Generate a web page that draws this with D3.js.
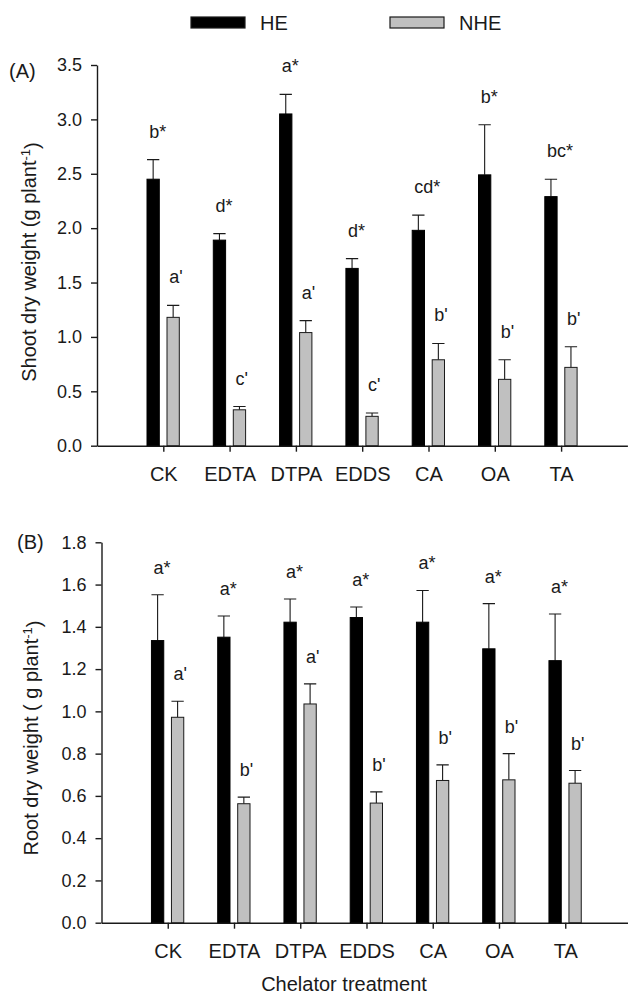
<!DOCTYPE html>
<html>
<head>
<meta charset="utf-8">
<script src="https://d3js.org/d3.v7.min.js"></script>
<style>
  body { margin: 0; background: #fff; }
  svg { font-family: "Liberation Sans", Arial, sans-serif; }
</style>
</head>
<body>
<svg width="628" height="997"></svg>
<script>
  // chelator treatments
  var categories = ["CK", "EDTA", "DTPA", "EDDS", "CA", "OA", "TA"];

  // (A) shoot dry weight, g plant-1
  var shootHE = [2.45, 1.89, 3.05, 1.63, 1.98, 2.49, 2.29];
  var shootHEerr = [0.18, 0.06, 0.18, 0.09, 0.14, 0.46, 0.16];
  var shootNHE = [1.18, 0.33, 1.04, 0.27, 0.79, 0.61, 0.72];
  var shootNHEerr = [0.11, 0.03, 0.11, 0.03, 0.15, 0.18, 0.19];
  var shootHElab = ["b*", "d*", "a*", "d*", "cd*", "b*", "bc*"];
  var shootNHElab = ["a'", "c'", "a'", "c'", "b'", "b'", "b'"];
  var shootTicks = [0, 0.5, 1.0, 1.5, 2.0, 2.5, 3.0, 3.5];

  // (B) root dry weight, g plant-1
  var rootHE = [1.335, 1.351, 1.422, 1.444, 1.422, 1.296, 1.24];
  var rootHEerr = [0.217, 0.10, 0.11, 0.05, 0.15, 0.214, 0.221];
  var rootNHE = [0.972, 0.563, 1.035, 0.566, 0.673, 0.676, 0.66];
  var rootNHEerr = [0.076, 0.031, 0.095, 0.053, 0.074, 0.124, 0.06];
  var rootHElab = ["a*", "a*", "a*", "a*", "a*", "a*", "a*"];
  var rootNHElab = ["a'", "b'", "a'", "b'", "b'", "b'", "b'"];
  var rootTicks = [0, 0.2, 0.4, 0.6, 0.8, 1.0, 1.2, 1.4, 1.6, 1.8];

  var svg = d3.select("svg");
  var ink = "#1a1a1a";
  var grey = "#c0c0c0";

  function makePanel(p) {
    // categories sit on slots 1..7 of an 8-slot axis
    var x = d3.scaleLinear().domain([0, 8]).range(p.xRange);
    var y = d3.scaleLinear().domain(p.yDomain).range(p.yRange);

    var yAxis = svg.append("g")
      .attr("transform", "translate(" + p.xRange[0] + ",0)")
      .call(d3.axisLeft(y).tickValues(p.ticks).tickFormat(d3.format(".1f"))
        .tickSize(6).tickSizeOuter(0).tickPadding(9));
    var xAxis = svg.append("g")
      .attr("transform", "translate(0," + p.yRange[0] + ")")
      .call(d3.axisBottom(x).tickValues(d3.range(1, 8))
        .tickFormat(function(d) { return categories[d - 1]; })
        .tickSize(6).tickSizeOuter(0).tickPadding(15));
    [yAxis, xAxis].forEach(function(a) {
      a.selectAll("path, line").attr("stroke", ink).attr("stroke-width", 1.4);
      a.selectAll("text").attr("fill", ink).attr("font-family", "Liberation Sans, Arial, sans-serif");
    });
    yAxis.selectAll("text").attr("font-size", "18px");
    xAxis.selectAll("text").attr("font-size", "20px");

    var series = [
      { vals: p.he, err: p.heErr, lab: p.heLab, dx: -16.3, fill: "#000", stroke: "#000" },
      { vals: p.nhe, err: p.nheErr, lab: p.nheLab, dx: 3.7, fill: grey, stroke: ink }
    ];
    var bw = 12.3;

    series.forEach(function(s) {
      var cx = function(i) { return x(i + 1) + s.dx + bw / 2; };
      var g = svg.append("g");
      // error bars (upper only)
      g.selectAll(".eb")
        .data(s.vals)
        .enter()
        .append("path")
        .attr("class", "eb")
        .attr("fill", "none")
        .attr("stroke", ink)
        .attr("stroke-width", 1.1)
        .attr("d", function(d, i) {
          var top = y(d + s.err[i]);
          return "M" + cx(i) + "," + y(d) + "V" + top +
            "M" + (cx(i) - bw / 2) + "," + top + "H" + (cx(i) + bw / 2);
        });
      g.selectAll(".bar")
        .data(s.vals)
        .enter()
        .append("rect")
        .attr("class", "bar")
        .attr("x", function(d, i) { return x(i + 1) + s.dx; })
        .attr("y", function(d) { return y(d); })
        .attr("width", bw)
        .attr("height", function(d) { return y(0) - y(d); })
        .attr("fill", s.fill)
        .attr("stroke", s.stroke)
        .attr("stroke-width", 1);
      g.selectAll(".lab")
        .data(s.lab)
        .enter()
        .append("text")
        .attr("class", "lab")
        .attr("x", function(d, i) { return cx(i) - 4; })
        .attr("y", function(d, i) { return y(s.vals[i] + s.err[i]) - p.labGap; })
        .attr("font-size", "18px")
        .attr("fill", ink)
        .text(function(d) { return d; });
    });

    svg.append("text")
      .attr("x", p.tag[0])
      .attr("y", p.tag[1])
      .attr("font-size", "20px")
      .attr("fill", ink)
      .text(p.tagText);

    var t = svg.append("text")
      .attr("transform", "translate(" + p.title[0] + "," + p.title[1] + ") rotate(-90)")
      .attr("text-anchor", "middle")
      .attr("font-size", "20px")
      .attr("fill", ink);
    t.append("tspan").text(p.titleText);
    t.append("tspan").attr("dy", "-0.45em").attr("font-size", "13px").text("-1");
    t.append("tspan").attr("dy", "0.45em").text(")");
  }

  makePanel({
    xRange: [97, 627.4], yRange: [445.7, 65], yDomain: [0, 3.5], ticks: shootTicks,
    he: shootHE, heErr: shootHEerr, heLab: shootHElab,
    nhe: shootNHE, nheErr: shootNHEerr, nheLab: shootNHElab,
    labGap: 22, tag: [9, 78], tagText: "(A)",
    title: [36, 262], titleText: "Shoot dry weight (g plant"
  });

  makePanel({
    xRange: [101.5, 631.5], yRange: [922.7, 542.3], yDomain: [0, 1.8], ticks: rootTicks,
    he: rootHE, heErr: rootHEerr, heLab: rootHElab,
    nhe: rootNHE, nheErr: rootNHEerr, nheLab: rootNHElab,
    labGap: 21, tag: [17, 549], tagText: "(B)",
    title: [38, 738], titleText: "Root dry weight ( g plant"
  });

  svg.append("text")
    .attr("x", 344)
    .attr("y", 991)
    .attr("text-anchor", "middle")
    .attr("font-size", "20px")
    .attr("fill", ink)
    .text("Chelator treatment");

  // legend
  var legend = [
    { name: "HE", fill: "#000", x: 191 },
    { name: "NHE", fill: grey, x: 390 }
  ];
  var lg = svg.append("g");
  lg.selectAll("rect")
    .data(legend)
    .enter()
    .append("rect")
    .attr("x", function(d) { return d.x; })
    .attr("y", 17)
    .attr("width", 54)
    .attr("height", 11)
    .attr("fill", function(d) { return d.fill; })
    .attr("stroke", ink)
    .attr("stroke-width", 1.2);
  lg.selectAll("text")
    .data(legend)
    .enter()
    .append("text")
    .attr("x", function(d) { return d.x + 69; })
    .attr("y", 30)
    .attr("font-size", "20px")
    .attr("fill", ink)
    .text(function(d) { return d.name; });
</script>
</body>
</html>
